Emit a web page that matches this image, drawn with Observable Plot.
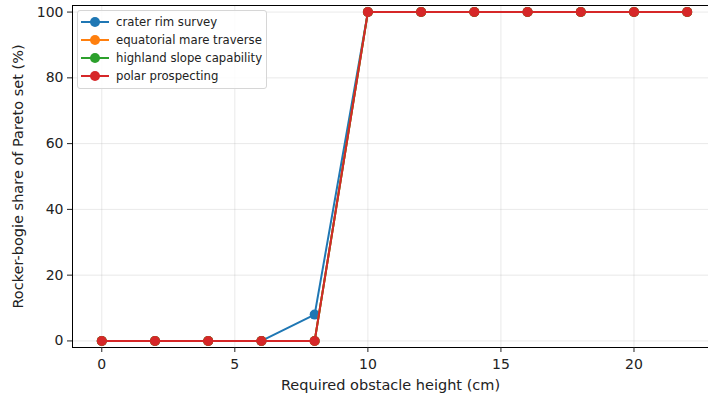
<!DOCTYPE html>
<html><head><meta charset="utf-8">
<script src="https://cdn.jsdelivr.net/npm/d3@7"></script>
<script src="https://cdn.jsdelivr.net/npm/@observablehq/plot@0.6"></script>
<style>
body{margin:0;background:#fff;font-family:"DejaVu Sans",sans-serif;}
#wrap{position:relative;width:708px;height:397px;overflow:hidden;}
#legend{position:absolute;left:77px;top:10px;border:1px solid #d6d6d6;border-radius:3px;background:rgba(255,255,255,0.85);padding:2px 4px 3px 3px;font-size:11.7px;color:#222;}
#legend div{display:flex;align-items:center;height:18px;}
#legend svg{margin-right:7px;}
</style></head><body>
<div id="wrap"><div id="legend"></div></div>
<script>
const heights = [0,2,4,6,8,10,12,14,16,18,20,22];
const seriesNames = ["crater rim survey","equatorial mare traverse","highland slope capability","polar prospecting"];
const colors = ["#1f77b4","#ff7f0e","#2ca02c","#d62728"];
const craterRim = [0,0,0,0,8,100,100,100,100,100,100,100];
const equatorialMare = [0,0,0,0,0,100,100,100,100,100,100,100];
const highlandSlope = [0,0,0,0,0,100,100,100,100,100,100,100];
const polarProspecting = [0,0,0,0,0,100,100,100,100,100,100,100];
const xTicks = [0,5,10,15,20];
const yTicks = [0,20,40,60,80,100];
const allSeries = [craterRim, equatorialMare, highlandSlope, polarProspecting];

const marks = [
  Plot.gridX(xTicks,{stroke:"#b0b0b0",strokeOpacity:0.35,strokeWidth:0.8}),
  Plot.gridY(yTicks,{stroke:"#b0b0b0",strokeOpacity:0.35,strokeWidth:0.8}),
];
allSeries.forEach((vals,i)=>{
  const data = heights.map((h,j)=>({x:h,y:vals[j],s:seriesNames[i]}));
  marks.push(Plot.line(data,{x:"x",y:"y",stroke:colors[i],strokeWidth:2}));
  marks.push(Plot.dot(data,{x:"x",y:"y",fill:colors[i],r:5}));
});
marks.push(Plot.ruleX([-1.1],{stroke:"#000",strokeWidth:1}));
marks.push(Plot.ruleY([-2,102],{stroke:"#000",strokeWidth:1}));
marks.push(Plot.axisX(xTicks,{tickSize:5,fontSize:14,tickPadding:7,label:null}));
marks.push(Plot.axisY(yTicks,{tickSize:5,fontSize:14,tickPadding:4,label:null}));
marks.push(Plot.text(["Required obstacle height (cm)"],{frameAnchor:"bottom",dy:42,fontSize:14.5,fill:"#222"}));
marks.push(Plot.text(["Rocker-bogie share of Pareto set (%)"],{frameAnchor:"left",dx:-54,rotate:-90,textAnchor:"middle",fontSize:14.5,fill:"#222"}));

const chart = Plot.plot({
  width:708,height:397,
  marginLeft:72,marginRight:0,marginTop:5,marginBottom:50,
  style:{fontFamily:"DejaVu Sans, sans-serif",color:"#222",background:"#fff",overflow:"visible"},
  x:{domain:[-1.1,22.8]},
  y:{domain:[-2,102]},
  marks
});
const wrap = document.getElementById("wrap");
wrap.insertBefore(chart, wrap.firstChild);

const legend = document.getElementById("legend");
seriesNames.forEach((n,i)=>{
  const row = document.createElement("div");
  row.innerHTML = `<svg width="28" height="12"><line x1="0" x2="28" y1="6" y2="6" stroke="${colors[i]}" stroke-width="2"/><circle cx="14" cy="6" r="5" fill="${colors[i]}"/></svg><span>${n}</span>`;
  legend.appendChild(row);
});
</script>
</body></html>
